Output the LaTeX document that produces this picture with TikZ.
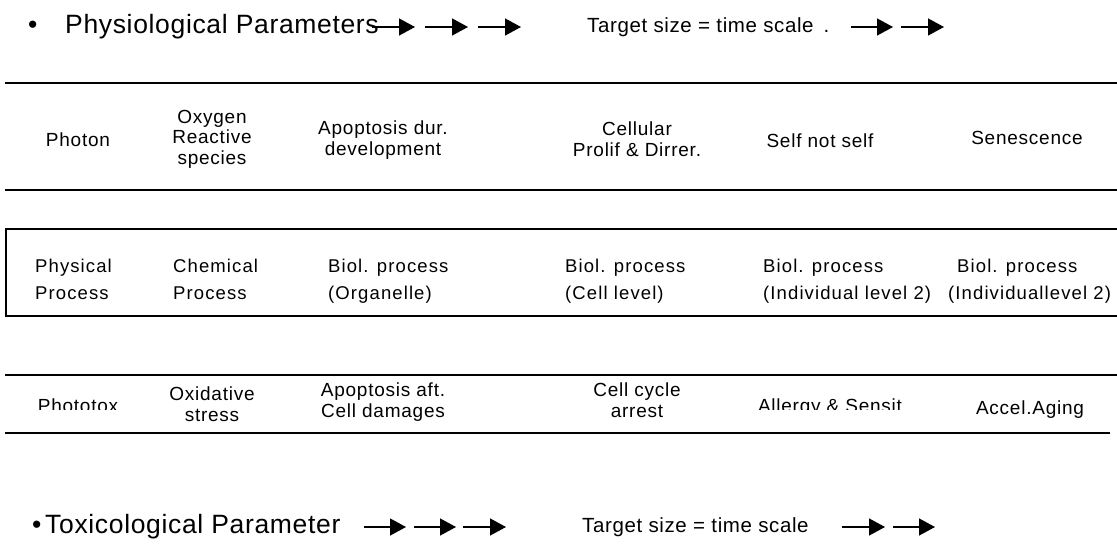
\documentclass[tikz,border=0pt]{standalone}
\usepackage{fontspec}
\setmainfont{Liberation Sans}
\newfontfamily\titlefont[LetterSpace=2.5]{Liberation Sans}
\newfontfamily\tgtfont[LetterSpace=3]{Liberation Sans}
\newfontfamily\cellfont[LetterSpace=4]{Liberation Sans}
\newfontfamily\procfont[LetterSpace=6]{Liberation Sans}
\usetikzlibrary{arrows.meta}
\begin{document}
\begin{tikzpicture}[x=1pt,y=-1pt,
  rule/.style={line width=1.8pt},
  arr/.style={line width=1.4pt,-{Triangle[length=16pt,width=17pt]}},
  title/.style={font=\titlefont\fontsize{26.5}{30}\selectfont, inner sep=0, anchor=west},
  tgt/.style={font=\tgtfont\fontsize{20.5}{24}\selectfont, inner sep=0, anchor=west},
  cell/.style={font=\cellfont\fontsize{19}{20.5}\selectfont, align=center, inner sep=0},
  proc/.style={font=\procfont\fontsize{18.5}{20}\selectfont, inner sep=0, anchor=base west},
]
\useasboundingbox (0,0) rectangle (1117,551);

% ---- top header ----
\node[title] (b1) at (28,27) {\textbullet};
\node[title] (t1) at (65,27) {Physiological Parameters};
\coordinate (p1s) at (372,27); \coordinate (p1e) at (415,27);
\coordinate (p2s) at (425,27); \coordinate (p2e) at (468,27);
\coordinate (p3s) at (478,27); \coordinate (p3e) at (521,27);
\draw[arr] (p1s) -- (p1e);
\draw[arr] (p2s) -- (p2e);
\draw[arr] (p3s) -- (p3e);
\node[tgt] (s1) at (587,27) {Target size = time scale\hspace{10pt}.};
\coordinate (p4s) at (851,27); \coordinate (p4e) at (893,27);
\coordinate (p5s) at (901,27); \coordinate (p5e) at (944,27);
\draw[arr] (p4s) -- (p4e);
\draw[arr] (p5s) -- (p5e);

% ---- rules ----
\coordinate (l1a) at (5,83);  \coordinate (l1b) at (1117,83);
\coordinate (l2a) at (5,190); \coordinate (l2b) at (1117,190);
\coordinate (bxa) at (1117,229); \coordinate (bxb) at (6,229);
\coordinate (bxc) at (6,316); \coordinate (bxd) at (1117,316);
\coordinate (l3a) at (5,375); \coordinate (l3b) at (1117,375);
\coordinate (l4a) at (5,433); \coordinate (l4b) at (1110,433);
\draw[rule] (l1a) -- (l1b);
\draw[rule] (l2a) -- (l2b);
\draw[rule] (bxa) -- (bxb) -- (bxc) -- (bxd);
\draw[rule] (l3a) -- (l3b);
\draw[rule] (l4a) -- (l4b);

% ---- physiological row ----
\node[cell] (c1) at (78,140) {Photon};
\node[cell] (c2) at (212,139) {Oxygen\\Reactive\\species};
\node[cell] (c3) at (383,140) {Apoptosis dur.\\development};
\node[cell] (c4) at (637,139) {Cellular\\Prolif \& Dirrer.};
\node[cell] (c5) at (820,141) {Self not self};
\node[cell] (c6) at (1027,138) {Senescence};

% ---- process row ----
\node[proc] (q1a) at (35,272) {Physical};
\node[proc] (q1b) at (35,299) {Process};
\node[proc] (q2a) at (173,272) {Chemical};
\node[proc] (q2b) at (173,299) {Process};
\node[proc] (q3a) at (328,272) {Biol. process};
\node[proc] (q3b) at (328,299) {(Organelle)};
\node[proc] (q4a) at (565,272) {Biol. process};
\node[proc] (q4b) at (565,299) {(Cell level)};
\node[proc] (q5a) at (763,272) {Biol. process};
\node[proc] (q5b) at (763,299) {(Individual level 2)};
\node[proc] (q6a) at (957,272) {Biol. process};
\node[proc] (q6b) at (948,299) {(Individuallevel 2)};

% ---- toxicological row ----
\begin{scope}
  \clip (0,380) rectangle (1117,409);
  \node[cell, anchor=base] (d1) at (78,412) {Phototox};
  \node[cell, anchor=base] (d5) at (830,412) {Allergy \& Sensit};
\end{scope}
\node[cell] (d2) at (212,404) {Oxidative\\stress};
\node[cell] (d3) at (383,402) {Apoptosis aft.\\Cell damages};
\node[cell] (d4) at (637,400) {Cell cycle\\arrest};
\node[cell] (d6) at (1030,410) {Accel.Aging};

% ---- bottom header ----
\node[title] (b2) at (32,527) {\textbullet};
\node[title] (t2) at (45,527) {Toxicological Parameter};
\coordinate (r1s) at (364,527); \coordinate (r1e) at (406,527);
\coordinate (r2s) at (414,527); \coordinate (r2e) at (456,527);
\coordinate (r3s) at (463,527); \coordinate (r3e) at (506,527);
\draw[arr] (r1s) -- (r1e);
\draw[arr] (r2s) -- (r2e);
\draw[arr] (r3s) -- (r3e);
\node[tgt] (s2) at (582,527) {Target size = time scale};
\coordinate (r4s) at (842,527); \coordinate (r4e) at (885,527);
\coordinate (r5s) at (893,527); \coordinate (r5e) at (935,527);
\draw[arr] (r4s) -- (r4e);
\draw[arr] (r5s) -- (r5e);
\end{tikzpicture}
\end{document}
